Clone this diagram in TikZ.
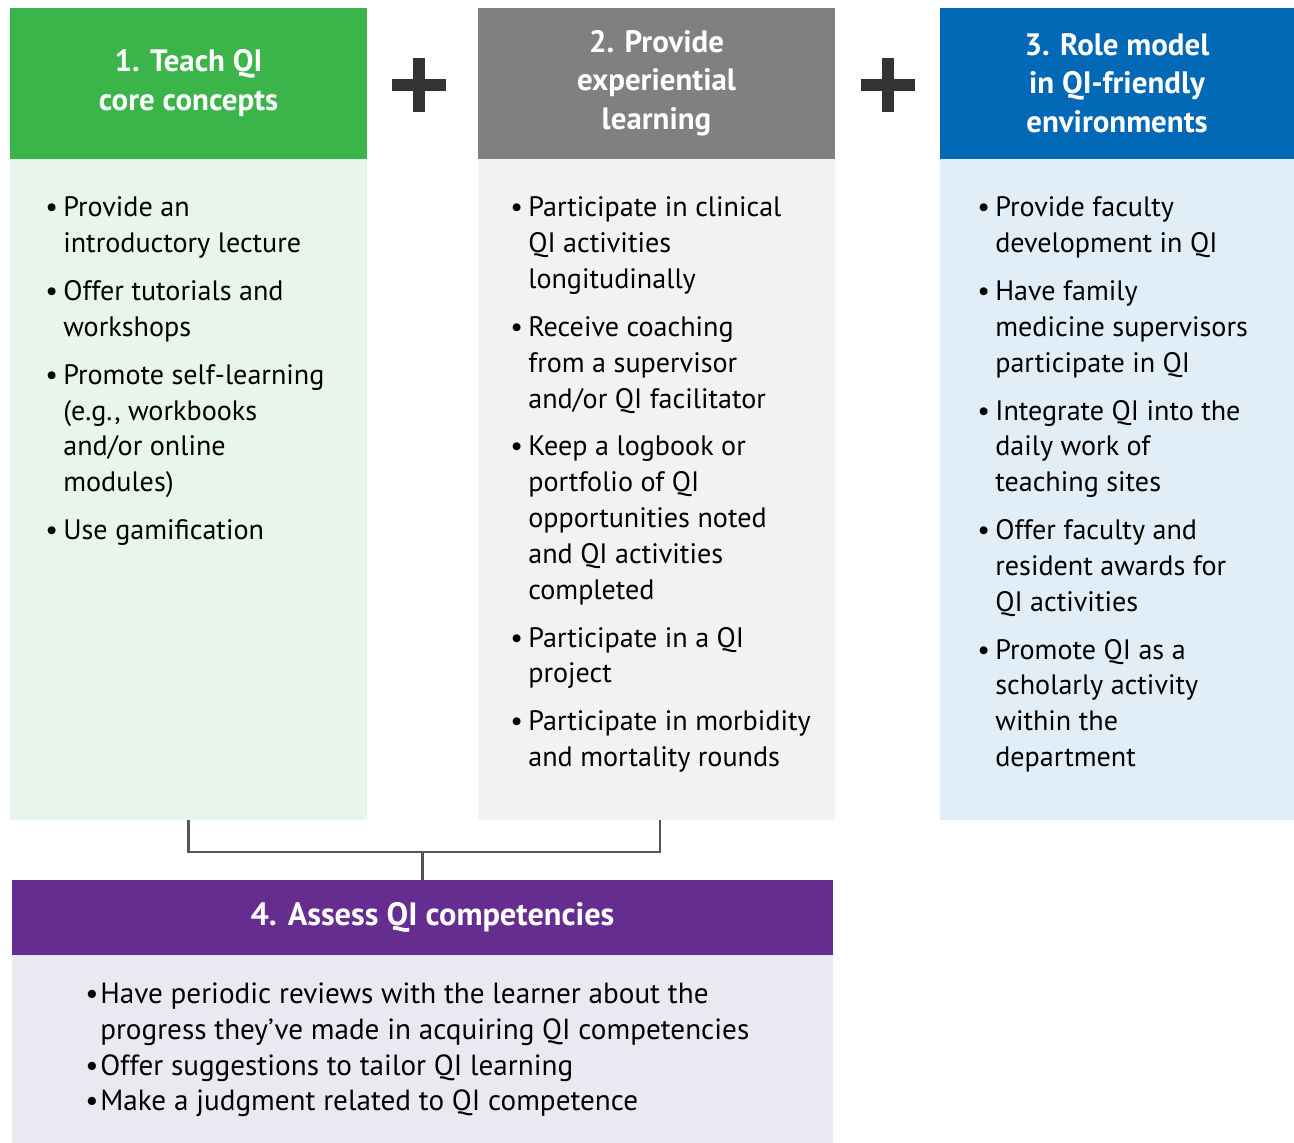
\documentclass[tikz,border=0pt]{standalone}
\usepackage{fontspec}
\setmainfont{PT Sans}
\usepackage{tikz}
\usetikzlibrary{positioning}
\definecolor{teachgreen}{RGB}{59,180,74}
\definecolor{teachpale}{RGB}{232,245,234}
\definecolor{expgray}{RGB}{128,128,128}
\definecolor{exppale}{RGB}{242,242,242}
\definecolor{roleblue}{RGB}{0,104,180}
\definecolor{rolepale}{RGB}{225,238,248}
\definecolor{assesspurple}{RGB}{102,45,145}
\definecolor{assesspale}{RGB}{236,232,242}
\definecolor{inkdark}{RGB}{51,51,51}
\definecolor{linkgray}{RGB}{85,85,85}
\newcommand{\bul}{\textbullet}
\newcommand{\gap}{\\[6.8pt]}

\begin{document}
\begin{tikzpicture}[
  node distance=0pt,
  head/.style={rectangle, inner sep=0pt, outer sep=0pt, minimum width=7.14cm, minimum height=3.02cm, align=center, text=white, font=\fontsize{17.6pt}{22pt}\selectfont\bfseries},
  body/.style={rectangle, inner sep=0pt, outer sep=0pt, minimum width=7.14cm, minimum height=13.22cm},
  lst/.style={inner sep=0pt, anchor=north west, align=left, font=\fontsize{16pt}{20.4pt}\selectfont},
  plus/.style={line width=6.8pt, inkdark},
  link/.style={line width=1.4pt, linkgray}
]
\useasboundingbox (0,0) rectangle (25.88,-22.86);

\node[head, fill=teachgreen] (head1) at (3.77,-1.66) {1. Teach QI\\core concepts};
\node[body, fill=teachpale, below=of head1] (body1) {};
\node[head, fill=expgray] (head2) at (13.13,-1.66) {2. Provide\\experiential\\learning};
\node[body, fill=exppale, below=of head2] (body2) {};
\node[head, fill=roleblue, minimum width=7.08cm] (head3) at (22.34,-1.66) {3. Role model\\in QI-friendly\\environments};
\node[body, fill=rolepale, minimum width=7.08cm, below=of head3] (body3) {};
\node[head, fill=assesspurple, minimum width=16.42cm, minimum height=1.5cm, font=\fontsize{18.4pt}{22pt}\selectfont\bfseries] (head4) at (8.45,-18.35) {\hspace*{0.4cm}4. Assess QI competencies};
\node[body, fill=assesspale, minimum width=16.42cm, minimum height=3.76cm, below=of head4] (body4) {};

\node[lst, below right=0.66cm and 0.7cm of body1.north west] (list1) {\begin{tabular}{@{}l@{\hspace{3pt}}l@{}}
\bul & Provide an\\ & introductory lecture\gap
\bul & Offer tutorials and\\ & workshops\gap
\bul & Promote self-learning\\ & (e.g., workbooks\\ & and/or online\\ & modules)\gap
\bul & Use gamification
\end{tabular}};
\node[lst, below right=0.66cm and 0.64cm of body2.north west] (list2) {\begin{tabular}{@{}l@{\hspace{3pt}}l@{}}
\bul & Participate in clinical\\ & QI activities\\ & longitudinally\gap
\bul & Receive coaching\\ & from a supervisor\\ & and/or QI facilitator\gap
\bul & Keep a logbook or\\ & portfolio of QI\\ & opportunities noted\\ & and QI activities\\ & completed\gap
\bul & Participate in a QI\\ & project\gap
\bul & Participate in morbidity\\ & and mortality rounds
\end{tabular}};
\node[lst, below right=0.66cm and 0.74cm of body3.north west] (list3) {\begin{tabular}{@{}l@{\hspace{3pt}}l@{}}
\bul & Provide faculty\\ & development in QI\gap
\bul & Have family\\ & medicine supervisors\\ & participate in QI\gap
\bul & Integrate QI into the\\ & daily work of\\ & teaching sites\gap
\bul & Offer faculty and\\ & resident awards for\\ & QI activities\gap
\bul & Promote QI as a\\ & scholarly activity\\ & within the\\ & department
\end{tabular}};
\node[lst, below right=0.46cm and 1.46cm of body4.north west, font=\fontsize{16.6pt}{20.4pt}\selectfont] (list4) {\begin{tabular}{@{}l@{\hspace{1pt}}l@{}}
\bul & Have periodic reviews with the learner about the\\ & progress they've made in acquiring QI competencies\\
\bul & Offer suggestions to tailor QI learning\\
\bul & Make a judgment related to QI competence
\end{tabular}};

\coordinate (plus1) at (8.38,-1.70);
\coordinate (plus2) at (17.76,-1.70);
\draw[plus] (plus1) ++(-0.54,0) -- ++(1.08,0);
\draw[plus] (plus1) ++(0,-0.54) -- ++(0,1.08);
\draw[plus] (plus2) ++(-0.54,0) -- ++(1.08,0);
\draw[plus] (plus2) ++(0,-0.54) -- ++(0,1.08);

\coordinate (join) at (head4.north |- 0,-17.04);
\draw[link] (body1.south) |- (join) -| ([xshift=0.07cm]body2.south);
\draw[link] (join) -- (head4.north);
\end{tikzpicture}
\end{document}
